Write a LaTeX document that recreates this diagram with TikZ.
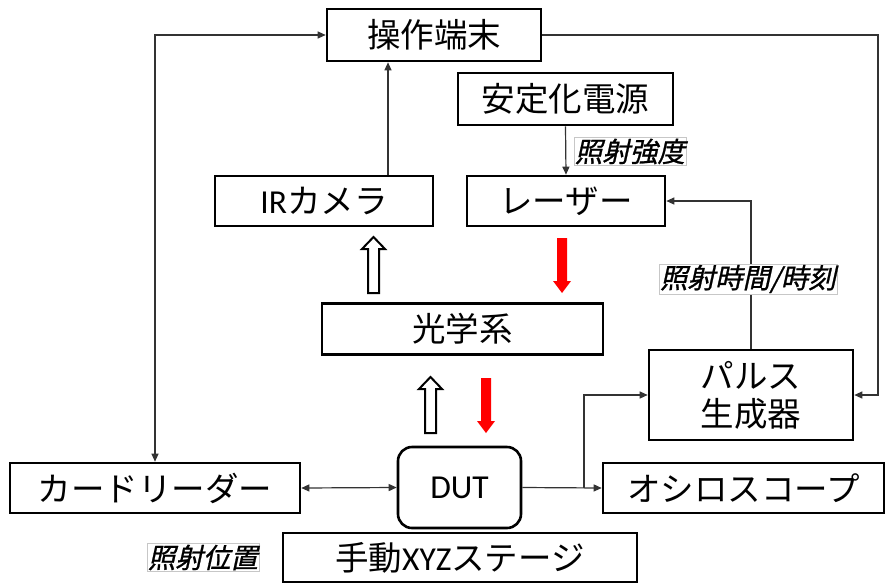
\documentclass[tikz,border=0pt]{standalone}
\usepackage{fontspec}
\newfontfamily\jp{Noto Sans CJK JP}
\newfontfamily\jpit[FakeSlant=0.22,FakeBold=0.9]{Noto Sans CJK JP}
\newfontfamily\lat{Carlito}
\usetikzlibrary{arrows.meta,calc}
\tikzset{
  box/.style={draw=black,line width=2.6pt,inner sep=0pt,font=\jp\fontsize{33.5}{38}\selectfont,align=center},
  conn/.style={line width=1.2pt,draw=black!80,-{Triangle[length=8pt,width=7pt]}},
  conn2/.style={line width=1.2pt,draw=black!80,{Triangle[length=8pt,width=7pt]}-{Triangle[length=8pt,width=7pt]}},
  lbl/.style={draw=black!22,line width=0.6pt,fill=white,inner sep=1pt,font=\jpit\fontsize{27.5}{30}\selectfont},
  redarrow/.style={fill=red,draw=none},
  hollowarrow/.style={fill=white,draw=black,line width=2pt,line join=miter}
}
\begin{document}
\begin{tikzpicture}[x=1pt,y=-1pt]
\useasboundingbox (0,0) rectangle (886,587);
% boxes
\node[box,minimum width=214pt,minimum height=52pt] (ope) at (434,35) {操作端末};
\node[box,minimum width=215pt,minimum height=52pt] (psu) at (565.5,99) {安定化電源};
\node[box,minimum width=198pt,minimum height=50pt] (laser) at (566,201) {レーザー};
\node[box,minimum width=218pt,minimum height=50pt] (ir) at (324,201) {{\lat IR}カメラ};
\node[box,minimum width=281pt,minimum height=51pt] (optics) at (462.5,329) {光学系};
\node[box,minimum width=204pt,minimum height=90pt] (pulse) at (751,395) {パルス\\生成器};
\node[box,minimum width=290pt,minimum height=50pt] (card) at (155,488) {カードリーダー};
\node[box,rounded corners=14pt,minimum width=123pt,minimum height=81pt] (dut) at (459.5,487.5) {\lat DUT};
\node[box,minimum width=281pt,minimum height=50pt] (osc) at (743.5,488) {オシロスコープ};
\node[box,minimum width=354pt,minimum height=49pt] (stage) at (460,557.5) {手動{\lat XYZ}ステージ};
% connectors
\draw[conn2] (ope.west) -| (card.north);
\draw[conn] ([xshift=64pt]ir.north) -- ([xshift=64pt]ir.north |- ope.south);
\coordinate (rr) at (878,35);
\draw[conn] (ope.east) -- (rr) |- (pulse.east);
\draw[conn] (psu.south) -- (laser.north);
\draw[conn] (pulse.north) |- (laser.east);
\draw[conn2] (card.east) -- (dut.west);
\draw[conn] (dut.east) -- (osc.west);
\coordinate (br) at (584,488);
\draw[conn] (br) |- (pulse.west);
% labels
\node[lbl] (l1) at (630,151.5) {照射強度};
\node[lbl] (l2) at (748,279) {照射時間/時刻};
\node[lbl] (l3) at (203,557.5) {照射位置};
% red arrows
\fill[redarrow] (557,238) -- (567,238) -- (567,281) -- (571,281) -- (562,293) -- (553,281) -- (557,281) -- cycle;
\fill[redarrow] (481,378) -- (491,378) -- (491,421) -- (495,421) -- (486,433) -- (477,421) -- (481,421) -- cycle;
% hollow arrows
\draw[hollowarrow] (368,293) -- (368,249) -- (362,249) -- (373.5,237) -- (385,249) -- (379,249) -- (379,293) -- cycle;
\draw[hollowarrow] (425,433) -- (425,389) -- (419,389) -- (430.5,377) -- (442,389) -- (436,389) -- (436,433) -- cycle;
\end{tikzpicture}
\end{document}
